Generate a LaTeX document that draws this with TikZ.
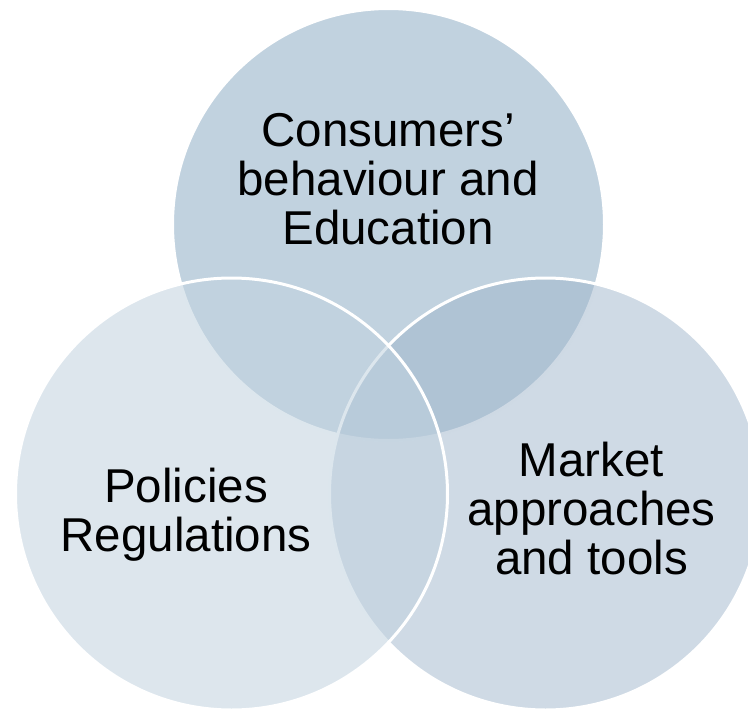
\documentclass[tikz,border=0pt]{standalone}
\usepackage{fontspec}
\setmainfont{Liberation Sans}
\definecolor{topfill}{RGB}{193,210,223}
\definecolor{rightfill}{RGB}{159,181,203}
\definecolor{leftfill}{RGB}{193,210,223}
\tikzset{
  venn/.style={circle, minimum size=432pt, inner sep=0pt, outer sep=0pt, draw=white, line width=3pt},
  lbl/.style={align=center, inner sep=0pt, text=black, font=\fontsize{47.5}{49}\selectfont}
}
\begin{document}
\begin{tikzpicture}[x=1pt,y=-1pt]
\useasboundingbox (0,0) rectangle (748,710);
\clip (0,0) rectangle (748,710);
\node[venn, fill=topfill] (ctop) at (388.5,224.5) {};
\node[venn, fill=rightfill, fill opacity=0.5] (cright) at (545.5,494) {};
\node[venn, fill=leftfill, fill opacity=0.55] (cleft) at (231.5,494) {};
\node[lbl] (ttop) at (388,178.7) {Consumers’\\behaviour and\\Education};
\node[lbl] (tleft) at (186,514.7) {Policies\\Regulations};
\node[lbl] (tright) at (591.5,508.7) {Market\\approaches\\and tools};
\end{tikzpicture}
\end{document}
